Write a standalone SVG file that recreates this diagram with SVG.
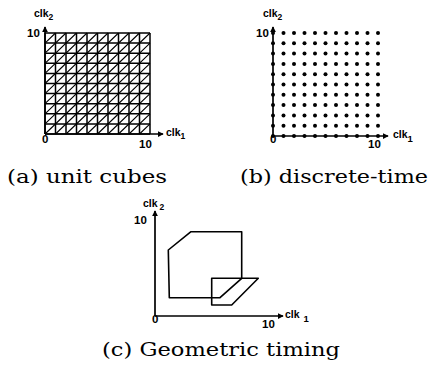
<svg xmlns="http://www.w3.org/2000/svg" width="430" height="372" viewBox="0 0 430 372">
<style>
.ax{stroke:#000;stroke-width:1.7;fill:none}
.grid{stroke:#000;stroke-width:1.5;fill:none}
.diag{stroke:#000;stroke-width:1.1;fill:none}
.poly{stroke:#000;stroke-width:1.6;fill:none;stroke-linejoin:round}
.lbl{font-family:"Liberation Sans",Arial,sans-serif;font-weight:bold;font-size:10.5px;fill:#000}
.num{font-family:"Liberation Sans",Arial,sans-serif;font-weight:bold;font-size:11.5px;fill:#000}
.cap{font-family:"DejaVu Serif","Liberation Serif",serif;font-size:18px;fill:#000}
.dot{fill:#000}
</style>
<defs>
<marker id="arr" viewBox="0 0 8 8" refX="7" refY="4" markerWidth="6" markerHeight="6" orient="auto" markerUnits="userSpaceOnUse">
<path d="M0,0 L8,4 L0,8 Z" fill="#000"/>
</marker>
</defs>

<!-- Panel (a) -->
<g id="panel-a">
<path class="grid" d="M45,33H150M45,43.1H150M45,53.2H150M45,63.3H150M45,73.4H150M45,83.5H150M45,93.6H150M45,103.7H150M45,113.8H150M45,123.9H150M45,134H150
M45,33V134M55.5,33V134M66,33V134M76.5,33V134M87,33V134M97.5,33V134M108,33V134M118.5,33V134M129,33V134M139.5,33V134M150,33V134"/>
<path class="diag" d="M45,134L150,33M55.5,134L150,43.1M66,134L150,53.2M76.5,134L150,63.3M87,134L150,73.4M97.5,134L150,83.5M108,134L150,93.6M118.5,134L150,103.7M129,134L150,113.8M139.5,134L150,123.9
M45,123.9L139.5,33M45,113.8L129,33M45,103.7L118.5,33M45,93.6L108,33M45,83.5L97.5,33M45,73.4L87,33M45,63.3L76.5,33M45,53.2L66,33M45,43.1L55.5,33"/>
<line class="ax" x1="45" y1="134" x2="45" y2="27" marker-end="url(#arr)"/>
<line class="ax" x1="45" y1="134" x2="163" y2="134" marker-end="url(#arr)"/>
<text class="lbl" x="34" y="17">clk<tspan dy="3" font-size="8.5">2</tspan></text>
<text class="num" x="27" y="37">10</text>
<text class="num" x="42" y="143">0</text>
<text class="num" x="139" y="148">10</text>
<text class="lbl" x="166" y="136">clk<tspan dy="3" font-size="8.5">1</tspan></text>
</g>

<!-- Panel (b) -->
<g id="panel-b">
<line class="ax" x1="273" y1="136" x2="273" y2="27" marker-end="url(#arr)"/>
<line class="ax" x1="273" y1="136" x2="388" y2="136" marker-end="url(#arr)"/>
<g class="dot">
<g id="row0">
<circle cx="273" cy="136" r="2"/><circle cx="283.5" cy="136" r="2"/><circle cx="294" cy="136" r="2"/><circle cx="304.5" cy="136" r="2"/><circle cx="315" cy="136" r="2"/><circle cx="325.5" cy="136" r="2"/><circle cx="336" cy="136" r="2"/><circle cx="346.5" cy="136" r="2"/><circle cx="357" cy="136" r="2"/><circle cx="367.5" cy="136" r="2"/><circle cx="378" cy="136" r="2"/>
</g>
<use href="#row0" y="-10.3"/>
<use href="#row0" y="-20.6"/>
<use href="#row0" y="-30.9"/>
<use href="#row0" y="-41.2"/>
<use href="#row0" y="-51.5"/>
<use href="#row0" y="-61.8"/>
<use href="#row0" y="-72.1"/>
<use href="#row0" y="-82.4"/>
<use href="#row0" y="-92.7"/>
<use href="#row0" y="-103"/>
</g>
<text class="lbl" x="263" y="17">clk<tspan dy="3" font-size="8.5">2</tspan></text>
<text class="num" x="256" y="37">10</text>
<text class="num" x="270" y="143">0</text>
<text class="num" x="368" y="148">10</text>
<text class="lbl" x="393" y="138">clk<tspan dy="4" font-size="9.5">1</tspan></text>
</g>

<!-- Panel (c) -->
<g id="panel-c">
<line class="ax" x1="155" y1="316" x2="155" y2="211" marker-end="url(#arr)"/>
<line class="ax" x1="155" y1="316" x2="283" y2="316" marker-end="url(#arr)"/>
<polygon class="poly" points="168.3,250 191,231.7 241.7,231.7 241.7,278.3 220,297.7 169.3,297.7"/>
<polygon class="poly" points="211.7,278.3 258.3,278.3 231.7,305 211.7,305"/>
<text class="lbl" x="143" y="207">clk<tspan dx="2" dy="3" font-size="8.5">2</tspan></text>
<text class="num" x="134" y="224">10</text>
<text class="num" x="152" y="323">0</text>
<text class="num" x="262" y="328">10</text>
<text class="lbl" x="285" y="318">clk<tspan dx="4" dy="4" font-size="9.5">1</tspan></text>
</g>

<!-- Captions -->
<g id="captions">
<text class="cap" x="7" y="183" textLength="160" lengthAdjust="spacingAndGlyphs">(a) unit cubes</text>
<text class="cap" x="240" y="183" textLength="188" lengthAdjust="spacingAndGlyphs">(b) discrete-time</text>
<text class="cap" x="102" y="356" textLength="238" lengthAdjust="spacingAndGlyphs">(c) Geometric timing</text>
</g>
</svg>
